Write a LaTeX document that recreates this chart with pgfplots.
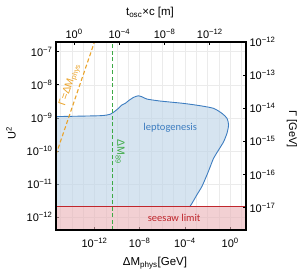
\documentclass[border=0pt]{standalone}
\usepackage{fontspec}
\setmainfont{Liberation Sans}
\newfontfamily\calibri{Carlito}
\usepackage{pgfplots}
\pgfplotsset{compat=1.18}
\definecolor{blueline}{HTML}{3D7DC0}
\definecolor{bluefill}{HTML}{BBD2E6}
\definecolor{redline}{HTML}{C0272D}
\definecolor{redfill}{HTML}{E9B1B6}
\definecolor{greenl}{HTML}{3DAA45}
\definecolor{orangel}{HTML}{EAA32A}
\newcommand{\tl}[1]{10\textsuperscript{#1}}
\pgfplotsset{
  common/.style={
    scale only axis, width=190pt, height=188pt,
    at={(0,0)}, anchor=south west,
    axis line style={line width=1.2pt, black},
    tick style={black, line width=0.8pt},
    major tick length=3pt,
    minor tick length=0pt,
    tick align=inside,
    ticklabel style={font=\fontsize{11}{12}\selectfont},
  }
}
\begin{document}
\begin{tikzpicture}
\begin{axis}[xmode=log, ymode=log, common,
  xmin=3.98e-16, xmax=25.12,
  ymin=4.14e-13, ymax=1.963e-7,
  xtick={1e-12,1e-8,1e-4,1},
  xticklabels={\tl{−12},\tl{−8},\tl{−4},\tl{0}},
  ytick={1e-12,1e-11,1e-10,1e-9,1e-8,1e-7},
  yticklabels={\tl{−12},\tl{−11},\tl{−10},\tl{−9},\tl{−8},\tl{−7}},
  xtick pos=bottom, ytick pos=left,
  minor xtick={1e-15,1e-14,1e-13,1e-12,1e-11,1e-10,1e-9,1e-8,1e-7,1e-6,1e-5,1e-4,1e-3,1e-2,1e-1,1,10},
  xminorgrids, ymajorgrids,
  major grid style={black!8, line width=0.5pt},
  minor grid style={black!8, line width=0.5pt},
  xticklabel style={yshift=-5pt},
]
% leptogenesis region fill
\addplot[draw=none, fill=bluefill, fill opacity=0.6] coordinates {
(3.98e-16,1.10e-9) (3.16e-12,1.17e-9) (2.45e-11,1.29e-9) (4.79e-11,1.48e-9)
(1.32e-10,1.95e-9) (2.63e-10,2.45e-9) (5.25e-10,2.75e-9) (1.02e-9,3.31e-9)
(2.82e-9,4.17e-9) (7.76e-9,4.68e-9) (1.55e-8,4.37e-9) (4.37e-8,3.72e-9)
(6.46e-7,3.24e-9) (7.59e-5,2.75e-9) (2.24e-3,2.34e-9) (3.39e-2,1.95e-9)
(0.186,1.38e-9) (0.525,9.77e-10) (0.724,6.17e-10) (0.525,3.47e-10)
(0.263,1.91e-10) (9.33e-2,1.07e-10) (3.39e-2,6.03e-11) (1.74e-2,3.39e-11)
(8.91e-3,1.91e-11) (3.16e-3,8.51e-12) (1.15e-3,4.79e-12) (4.17e-4,2.63e-12)
(2.57e-4,2.05e-12) (3.98e-16,2.05e-12)
} -- cycle;
% seesaw region
\addplot[draw=none, fill=redfill, fill opacity=0.6] coordinates {
(3.98e-16,4.14e-13) (25.12,4.14e-13) (25.12,2.05e-12) (3.98e-16,2.05e-12)
} -- cycle;
% leptogenesis boundary
\addplot[blueline, line width=0.9pt, smooth, tension=0.4] coordinates {
(3.98e-16,1.10e-9) (3.16e-12,1.17e-9) (2.45e-11,1.29e-9) (4.79e-11,1.48e-9)
(1.32e-10,1.95e-9) (2.63e-10,2.45e-9) (5.25e-10,2.75e-9) (1.02e-9,3.31e-9)
(2.82e-9,4.17e-9) (7.76e-9,4.68e-9) (1.55e-8,4.37e-9) (4.37e-8,3.72e-9)
(6.46e-7,3.24e-9) (7.59e-5,2.75e-9) (2.24e-3,2.34e-9) (3.39e-2,1.95e-9)
(0.186,1.38e-9) (0.525,9.77e-10) (0.724,6.17e-10) (0.525,3.47e-10)
(0.263,1.91e-10) (9.33e-2,1.07e-10) (3.39e-2,6.03e-11) (1.74e-2,3.39e-11)
(8.91e-3,1.91e-11) (3.16e-3,8.51e-12) (1.15e-3,4.79e-12) (4.17e-4,2.63e-12)
(2.57e-4,2.05e-12)
};
% seesaw line
\addplot[redline, line width=1pt] coordinates {(3.98e-16,2.05e-12) (25.12,2.05e-12)};
% Delta M_89
\addplot[greenl, line width=1.1pt, dash pattern=on 4pt off 2.5pt] coordinates {(3.72e-11,4.14e-13) (3.72e-11,1.963e-7)};
% Gamma = Delta M_phys
\addplot[orangel, line width=1.1pt, dash pattern=on 4pt off 2.5pt] coordinates {(3.98e-16,7.81e-11) (1.2e-12,2.36e-7)};
\node[blueline, font=\calibri\fontsize{10.5}{12}\selectfont] at (axis cs:5.0e-6,5.0e-10) {leptogenesis};
\node[redline, font=\calibri\fontsize{10.5}{12}\selectfont] at (axis cs:1.12e-5,9.5e-13) {seesaw limit};
\node[greenl, rotate=-90, inner sep=0pt, font=\fontsize{10.5}{12}\selectfont] at (axis cs:1.86e-10,9.3e-11) {ΔM\textsubscript{89}};
\node[orangel, rotate=71, inner sep=0pt, font=\fontsize{10.5}{12}\selectfont] at (axis cs:7.0e-15,1.0e-8) {Γ=ΔM\textsubscript{phys}};
\end{axis}
\begin{axis}[xmode=log, ymode=log, common,
  x dir=reverse,
  xmin=6.31e-16, xmax=39.81,
  ymin=2.109e-18, ymax=1e-12,
  xtick={1,1e-4,1e-8,1e-12},
  xticklabels={\tl{0},\tl{−4},\tl{−8},\tl{−12}},
  ytick={1e-17,1e-16,1e-15,1e-14,1e-13,1e-12},
  yticklabels={\tl{−17},\tl{−16},\tl{−15},\tl{−14},\tl{−13},\tl{−12}},
  xtick pos=top, xticklabel pos=top,
  ytick pos=right, yticklabel pos=right,
]
\end{axis}
\node[font=\fontsize{11}{13}\selectfont, rotate=90] at (-45pt,97pt) {U\textsuperscript{2}};
\node[font=\fontsize{11}{13}\selectfont, rotate=-90] at (236pt,101pt) {Γ [GeV]};
\node[font=\fontsize{11.5}{13}\selectfont] at (94pt,217pt) {t\textsubscript{osc}×c [m]};
\node[font=\fontsize{11.5}{13}\selectfont] at (99pt,-33pt) {ΔM\textsubscript{phys}[GeV]};
\pgfresetboundingbox
\useasboundingbox (-56pt,-44pt) rectangle (245pt,230pt);
\end{tikzpicture}
\end{document}
